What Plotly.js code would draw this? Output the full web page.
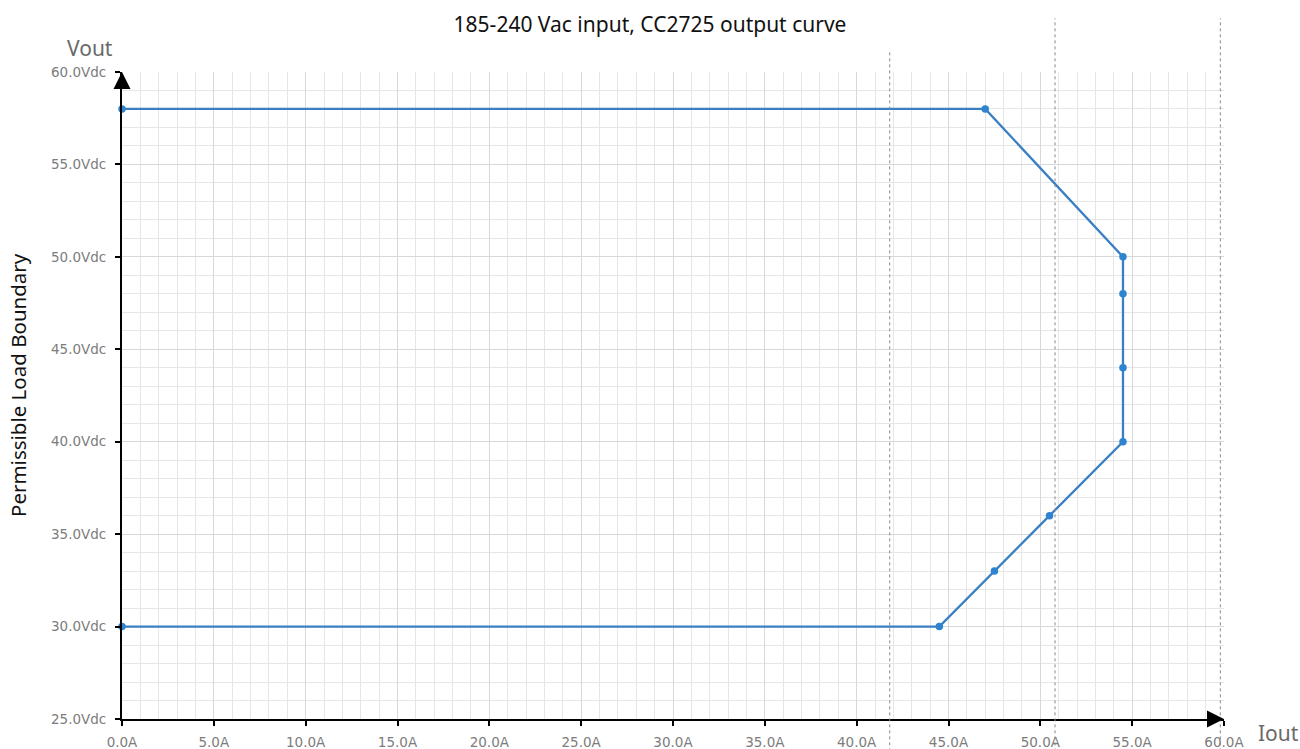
<!DOCTYPE html>
<html><head><meta charset="utf-8">
<script src="https://cdn.plot.ly/plotly-3.0.1.min.js"></script>
<style>html,body{margin:0;padding:0;background:#fff}#chart{width:1300px;height:749px}</style>
</head><body><div id="chart"></div>
<script>
// Boundary points (Iout in A, Vout in Vdc)
const iout = [0, 47, 54.5, 54.5, 54.5, 54.5, 50.5, 47.5, 44.5, 0];
const vout = [58, 58, 50, 48, 44, 40, 36, 33, 30, 30];
// Reference dashed vertical lines (A)
const refLines = [41.8, 50.8, 59.8];
const refTops = [1.034, 1.083, 1.083];

const titleText = '185-240 Vac input, CC2725 output curve';
const yTitle = 'Permissible Load Boundary';

const shapes = refLines.map((x, i) => ({
  type: 'line', xref: 'x', yref: 'paper', x0: x, x1: x, y0: -0.05, y1: refTops[i],
  line: {color: '#8a8a8a', width: 1, dash: 'dot'}
}));

const trace = {
  x: iout, y: vout, type: 'scatter', mode: 'lines+markers',
  line: {color: '#3a7fc1', width: 2.3},
  marker: {color: '#2f84d0', size: 7.5},
  hoverinfo: 'x+y', showlegend: false, cliponaxis: false
};

const tickFont = {family: 'DejaVu Sans, sans-serif', size: 13.5, color: '#7c7c7c'};

const layout = {
  width: 1300, height: 749,
  margin: {l: 122, r: 76, t: 72, b: 30},
  paper_bgcolor: '#fff', plot_bgcolor: '#fff',
  title: {text: titleText, x: 0.5, xanchor: 'center', y: 1 - 25/749, yanchor: 'middle',
          font: {family: 'Noto Sans, sans-serif', size: 21, color: '#111'}},
  xaxis: {
    range: [0, 60], dtick: 5, tick0: 0, tickformat: '.1f', ticksuffix: 'A',
    showgrid: true, gridcolor: '#d8d8d8', gridwidth: 1,
    minor: {dtick: 1, tick0: 0, showgrid: true, gridcolor: '#e6e6e6', gridwidth: 1},
    showline: true, linecolor: '#000', linewidth: 2,
    ticks: 'outside', ticklen: 5, tickcolor: '#000', tickwidth: 2, ticklabelstandoff: 5,
    tickfont: tickFont, zeroline: false, fixedrange: true
  },
  yaxis: {
    range: [25, 60], dtick: 5, tick0: 25, tickformat: '.1f', ticksuffix: 'Vdc',
    showgrid: true, gridcolor: '#d8d8d8', gridwidth: 1,
    minor: {dtick: 1, tick0: 25, showgrid: true, gridcolor: '#e6e6e6', gridwidth: 1},
    showline: true, linecolor: '#000', linewidth: 2,
    ticks: 'outside', ticklen: 5, tickcolor: '#000', tickwidth: 2, ticklabelstandoff: 6,
    tickfont: tickFont, zeroline: false, fixedrange: true
  },
  shapes: shapes,
  annotations: [
    // axis arrowheads
    {x: 60, y: 25, xref: 'x', yref: 'y', ax: -16, ay: 0, showarrow: true,
     arrowhead: 2, arrowsize: 1.7, arrowwidth: 2, arrowcolor: '#000', text: ''},
    {x: 0, y: 60, xref: 'x', yref: 'y', ax: 0, ay: 16, showarrow: true,
     arrowhead: 2, arrowsize: 1.7, arrowwidth: 2, arrowcolor: '#000', text: ''},
    {text: 'Vout', xref: 'paper', yref: 'paper', x: (90 - 122) / 1102, y: (719 - 48) / 647,
     xanchor: 'center', yanchor: 'middle', showarrow: false,
     font: {family: 'Noto Sans, sans-serif', size: 21, color: '#6a6a6a'}},
    {text: 'Iout', xref: 'paper', yref: 'paper', x: (1278 - 122) / 1102, y: (719 - 733) / 647,
     xanchor: 'center', yanchor: 'middle', showarrow: false,
     font: {family: 'Noto Sans, sans-serif', size: 21, color: '#6a6a6a'}},
    {text: yTitle, xref: 'paper', yref: 'paper', x: (18 - 122) / 1102, y: (719 - 385) / 647,
     xanchor: 'center', yanchor: 'middle', showarrow: false, textangle: -90,
     font: {family: 'Noto Sans, sans-serif', size: 20.5, color: '#111'}}
  ]
};

Plotly.newPlot('chart', [trace], layout, {displayModeBar: false, staticPlot: true});
</script></body></html>
